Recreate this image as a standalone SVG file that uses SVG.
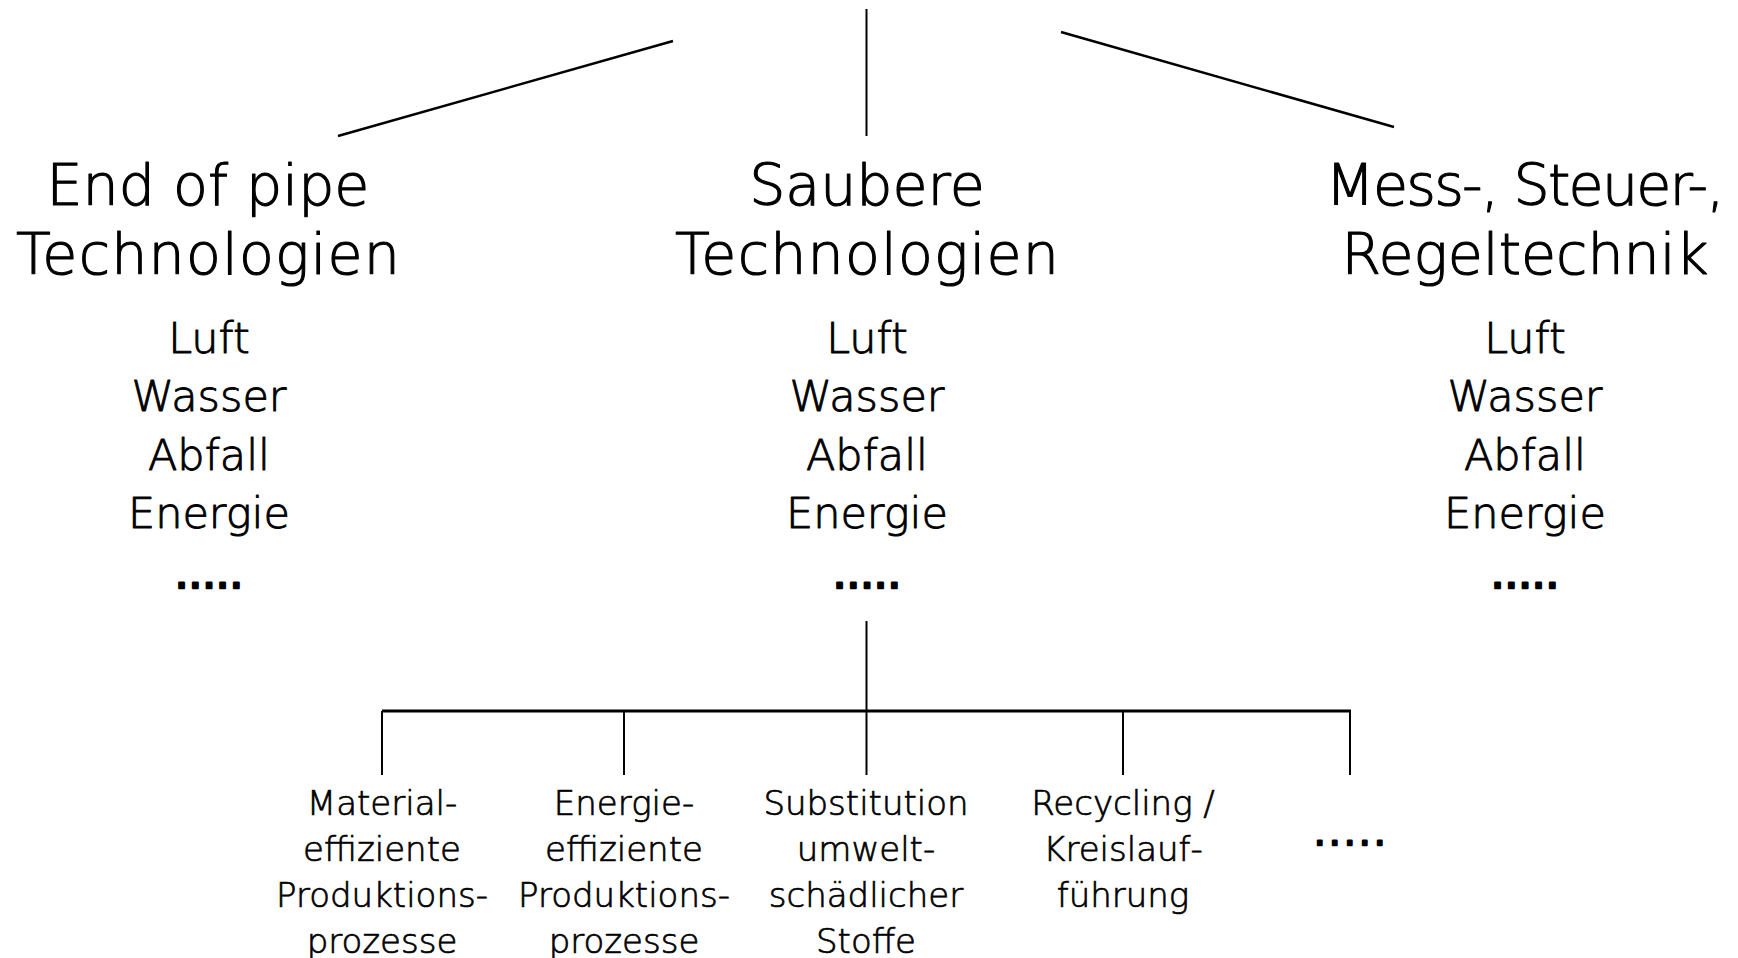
<svg xmlns="http://www.w3.org/2000/svg" width="1738" height="958" viewBox="0 0 1738 958">
<style>
text{font-family:"DejaVu Sans","Liberation Sans",sans-serif;fill:#000;text-anchor:middle;font-weight:200;stroke:#000;stroke-linejoin:round}
.h{font-size:57px;stroke-width:1.1px}
.m{font-size:43px;stroke-width:0.9px}
.s{font-size:34px;stroke-width:0.7px}
.d{font-size:43px;font-weight:normal;letter-spacing:0px;stroke-width:2.5px}
.ds{font-size:33px;font-weight:normal;letter-spacing:4.5px;stroke-width:2.5px}
.c{stroke:#000;fill:none;stroke-linecap:butt}
</style>
<rect width="1738" height="958" fill="#fff"/>
<g id="connectors">
<line class="c" x1="338" y1="136" x2="673" y2="41" stroke-width="2.5"/>
<line class="c" x1="866.5" y1="9" x2="866.5" y2="136" stroke-width="2"/>
<line class="c" x1="1061" y1="32" x2="1394" y2="127" stroke-width="2.5"/>
<line class="c" x1="866.5" y1="621" x2="866.5" y2="775" stroke-width="2"/>
<line class="c" x1="382" y1="711" x2="1351" y2="711" stroke-width="3"/>
<line class="c" x1="382" y1="711" x2="382" y2="775" stroke-width="2"/>
<line class="c" x1="624" y1="711" x2="624" y2="775" stroke-width="2"/>
<line class="c" x1="1123" y1="711" x2="1123" y2="775" stroke-width="2"/>
<line class="c" x1="1350" y1="711" x2="1350" y2="775" stroke-width="2"/>
</g>
<g id="node-endofpipe">
<text class="h" x="208" y="205">End of pipe</text>
<text class="h" x="208" y="274" textLength="384">Technologien</text>
<text class="m" x="209" y="353">Luft</text>
<text class="m" x="209" y="411">Wasser</text>
<text class="m" x="209" y="470">Abfall</text>
<text class="m" x="209" y="528">Energie</text>
<text class="d" x="209" y="588">.....</text>
</g>
<g id="node-saubere">
<text class="h" x="867" y="205">Saubere</text>
<text class="h" x="867" y="274" textLength="384">Technologien</text>
<text class="m" x="867" y="353">Luft</text>
<text class="m" x="867" y="411">Wasser</text>
<text class="m" x="867" y="470">Abfall</text>
<text class="m" x="867" y="528">Energie</text>
<text class="d" x="867" y="588">.....</text>
</g>
<g id="node-mess">
<text class="h" x="1525" y="205" textLength="399">Mess-, Steuer-,</text>
<text class="h" x="1525" y="274">Regeltechnik</text>
<text class="m" x="1525" y="353">Luft</text>
<text class="m" x="1525" y="411">Wasser</text>
<text class="m" x="1525" y="470">Abfall</text>
<text class="m" x="1525" y="528">Energie</text>
<text class="d" x="1525" y="588">.....</text>
</g>
<g id="node-material">
<text class="s" x="382" y="815">Material-</text>
<text class="s" x="382" y="861">effiziente</text>
<text class="s" x="382" y="907">Produktions-</text>
<text class="s" x="382" y="953">prozesse</text>
</g>
<g id="node-energie">
<text class="s" x="624" y="815">Energie-</text>
<text class="s" x="624" y="861">effiziente</text>
<text class="s" x="624" y="907">Produktions-</text>
<text class="s" x="624" y="953">prozesse</text>
</g>
<g id="node-substitution">
<text class="s" x="866" y="815">Substitution</text>
<text class="s" x="866" y="861">umwelt-</text>
<text class="s" x="866" y="907">schädlicher</text>
<text class="s" x="866" y="953">Stoffe</text>
</g>
<g id="node-recycling">
<text class="s" x="1123" y="815">Recycling /</text>
<text class="s" x="1123" y="861">Kreislauf-</text>
<text class="s" x="1123" y="907">führung</text>
</g>
<g id="node-more">
<text class="ds" x="1352" y="845">.....</text>
</g>
</svg>
